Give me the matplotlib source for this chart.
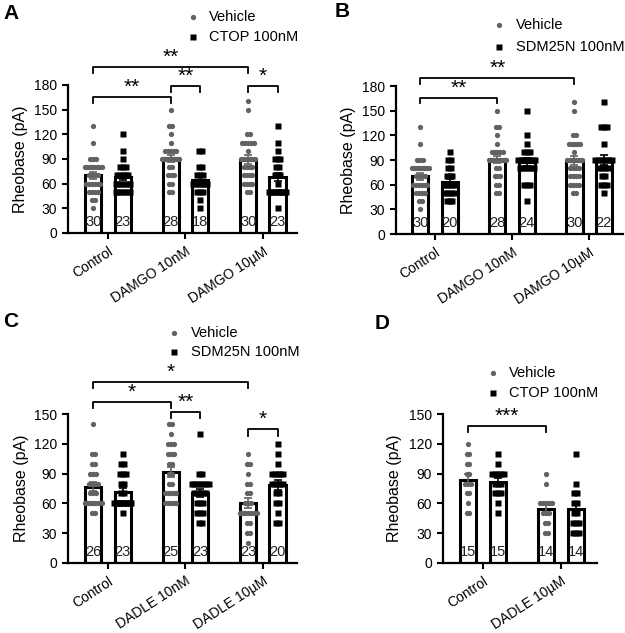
import matplotlib
matplotlib.use('Agg')
import matplotlib.pyplot as plt
from matplotlib.lines import Line2D
import numpy as np

plt.rcParams['font.family'] = ['Liberation Sans', 'DejaVu Sans']

# ---------------- data ----------------
cats_A = ['Control', 'DAMGO 10nM', 'DAMGO 10\u00b5M']
cats_C = ['Control', 'DADLE 10nM', 'DADLE 10\u00b5M']
cats_D = ['Control', 'DADLE 10\u00b5M']

veh_ctrl = [130, 110] + [90]*3 + [80]*8 + [70]*4 + [60]*6 + [50]*4 + [40]*2 + [30]
veh_damgo10n = [150] + [130]*2 + [120, 110] + [100]*5 + [90]*9 + [80]*2 + [70]*3 + [60]*2 + [50]*2
veh_damgo10u = [160, 150] + [120]*2 + [110]*5 + [100] + [90]*6 + [80]*4 + [70]*4 + [60]*4 + [50]*2

ctop_ctrl = [120, 100, 90] + [80]*3 + [70]*5 + [60]*6 + [50]*6
ctop_damgo10n = [100]*2 + [80]*2 + [70]*3 + [60]*6 + [50]*3 + [40, 30]
ctop_damgo10u = [130, 110, 100] + [90]*3 + [80]*2 + [70]*3 + [60] + [50]*10 + [30]

sdm_ctrl = [100] + [90]*2 + [80]*2 + [70]*3 + [60]*5 + [50]*4 + [40]*3
sdm_damgo10n = [150, 120, 110] + [100]*3 + [90]*8 + [80]*6 + [60]*3 + [40]
sdm_damgo10u = [160] + [130]*3 + [110] + [90]*7 + [80]*4 + [70]*2 + [60]*3 + [50]

C_veh_ctrl = [140] + [110]*2 + [100]*2 + [90]*3 + [80]*4 + [70]*3 + [60]*9 + [50]*2
C_veh_dadle10n = [140]*2 + [130] + [120]*3 + [110]*3 + [100]*2 + [90]*2 + [80]*2 + [70]*5 + [60]*5
C_veh_dadle10u = [110] + [100]*2 + [90] + [80]*2 + [70]*2 + [60]*3 + [50]*7 + [40]*2 + [30]*2 + [20]
C_sdm_ctrl = [110] + [100]*2 + [90]*3 + [80]*2 + [70]*2 + [60]*12 + [50]
C_sdm_dadle10n = [130] + [90]*2 + [80]*7 + [70]*5 + [60]*3 + [50]*3 + [40]*2
C_sdm_dadle10u = [120, 110, 100] + [90]*5 + [80]*5 + [70]*2 + [60]*2 + [50] + [40]*2

D_veh_ctrl = [120] + [110]*2 + [100]*2 + [90]*2 + [80]*3 + [70]*2 + [60] + [50]*2
D_veh_dadle = [90, 80] + [60]*5 + [50]*3 + [40]*2 + [30]*2
D_ctop_ctrl = [110, 100] + [90]*5 + [80]*3 + [70]*3 + [60, 50]
D_ctop_dadle = [110, 80] + [70]*2 + [60]*2 + [50]*2 + [40]*3 + [30]*3

# ---------------- style ----------------
W, H = 625, 633
GRAY = '#626262'
BLACK = '#000000'
OFF = 0.19
BW = 0.21

fig = plt.figure(figsize=(W/100, H/100), dpi=100)


def ax_px(l, r, t, b):
    return fig.add_axes([l/W, 1-b/H, (r-l)/W, (b-t)/H])


def swarm_x(center, vals, dx=0.037, maxspread=0.22):
    vals = np.asarray(vals)
    xs = np.zeros(len(vals))
    for v in np.unique(vals):
        idx = np.where(vals == v)[0]
        k = len(idx)
        d = dx if k < 2 else min(dx, maxspread/(k-1))
        xs[idx] = center + (np.arange(k) - (k-1)/2) * d
    return xs


def panel(ax, cats, groups_veh, groups_drug, ymax, ylabx, xlim, brackets):
    for i in range(len(cats)):
        for vals, off, col, mk, ms in ((groups_veh[i], -OFF, GRAY, 'o', 3.8),
                                       (groups_drug[i], OFF, BLACK, 's', 4.0)):
            x = i + off
            v = np.asarray(vals, dtype=float)
            m = v.mean()
            sem = v.std(ddof=1) / np.sqrt(len(v))
            ax.bar(x, m, width=BW, facecolor='white', edgecolor='black', lw=2.2, zorder=1)
            ax.plot(swarm_x(x, v), v, ls='none', marker=mk, ms=ms, color=col, mec='none', zorder=3)
            ax.errorbar(x, m, yerr=sem, color=col, capsize=3, elinewidth=1.2, capthick=1.2, zorder=4)
            ax.annotate(str(len(v)), (x, 0), xytext=(0, 3), textcoords='offset points',
                        ha='center', va='bottom', fontsize=10.5, color='#222222', zorder=5)
    ax.set_xlim(*xlim)
    ax.set_ylim(0, ymax)
    ax.set_yticks(np.arange(0, ymax + 1, 30))
    ax.set_xticks(range(len(cats)))
    ax.set_xticklabels(cats, rotation=33, ha='right', rotation_mode='anchor', fontsize=10)
    ax.tick_params(axis='both', labelsize=10, width=1.5, length=4.5)
    for s in ('top', 'right'):
        ax.spines[s].set_visible(False)
    for s in ('left', 'bottom'):
        ax.spines[s].set_linewidth(1.6)
    ax.set_ylabel('Rheobase (pA)', fontsize=11.5)
    ax.yaxis.set_label_coords(ylabx, 0.5)
    for x1, x2, ytop, ytip, txt in brackets:
        ax.plot([x1, x1, x2, x2], [ytip, ytop, ytop, ytip], color='black', lw=1.3,
                clip_on=False, zorder=5)
        ax.annotate(txt, ((x1 + x2)/2, ytop), xytext=(0, 3), textcoords='offset points',
                    ha='center', va='baseline', fontsize=15, annotation_clip=False)


def legend(xm, y1, y2, xt, lab2):
    fig.add_artist(Line2D([xm/W], [1-y1/H], marker='o', ms=3.8, color=GRAY, mec='none',
                          transform=fig.transFigure))
    fig.add_artist(Line2D([xm/W], [1-y2/H], marker='s', ms=4.2, color=BLACK, mec='none',
                          transform=fig.transFigure))
    fig.text(xt/W, 1-y1/H, 'Vehicle', fontsize=10.5, va='center', ha='left')
    fig.text(xt/W, 1-y2/H, lab2, fontsize=10.5, va='center', ha='left')


# Panel A
axA = ax_px(68, 297, 85, 233)
panel(axA, cats_A, [veh_ctrl, veh_damgo10n, veh_damgo10u],
      [ctop_ctrl, ctop_damgo10n, ctop_damgo10u], 180, -0.175, (-0.516, 2.44),
      [(-OFF, 1-OFF, 165, 158, '**'), (1-OFF, 1+OFF, 179, 171, '**'),
       (-OFF, 2-OFF, 202, 195, '**'), (2-OFF, 2+OFF, 179, 171, '*')])

# Panel B
axB = ax_px(396, 623, 86, 234)
panel(axB, cats_A, [veh_ctrl, veh_damgo10n, veh_damgo10u],
      [sdm_ctrl, sdm_damgo10n, sdm_damgo10u], 180, -0.176, (-0.506, 2.44),
      [(-OFF, 1-OFF, 165, 159, '**'), (-OFF, 2-OFF, 190, 183, '**')])

# Panel C
axC = ax_px(68, 297, 414, 563)
panel(axC, cats_C, [C_veh_ctrl, C_veh_dadle10n, C_veh_dadle10u],
      [C_sdm_ctrl, C_sdm_dadle10n, C_sdm_dadle10u], 150, -0.172, (-0.516, 2.44),
      [(-OFF, 2-OFF, 182, 176, '*'), (-OFF, 1-OFF, 162, 156, '*'),
       (1-OFF, 1+OFF, 152, 146, '**'), (2-OFF, 2+OFF, 135, 128, '*')])

# Panel D
axD = ax_px(443, 597, 414, 563)
panel(axD, cats_D, [D_veh_ctrl, D_veh_dadle], [D_ctop_ctrl, D_ctop_dadle], 150, -0.266,
      (-0.51, 1.46), [(-OFF, 1-OFF, 138, 132, '***')])

legend(193, 17, 37, 209, 'CTOP 100nM')
legend(499, 25, 47, 516, 'SDM25N 100nM')
legend(174, 333, 352, 191, 'SDM25N 100nM')
legend(493, 373, 393, 509, 'CTOP 100nM')

for lab, x, y in (('A', 3, 4), ('B', 335, 2), ('C', 3, 312), ('D', 375, 314)):
    fig.text(x/W, 1-y/H, lab, fontsize=15, fontweight='bold', va='top', ha='left')

fig.savefig('out.png', dpi=100)
